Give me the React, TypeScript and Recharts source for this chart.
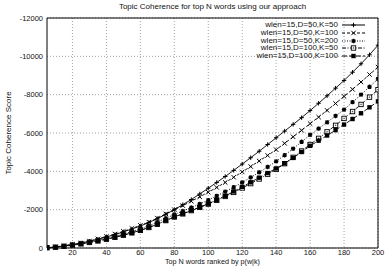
import { LineChart, Line, XAxis, YAxis, CartesianGrid, Legend, ReferenceArea, Label } from "recharts"

const FONT = "'Liberation Sans', Arial, sans-serif"

// top N words (x axis)
const topN = [
  5, 10, 15, 20, 25, 30, 35, 40, 45, 50, 55, 60, 65, 70, 75, 80, 85, 90, 95, 100,
  105, 110, 115, 120, 125, 130, 135, 140, 145, 150, 155, 160, 165, 170, 175, 180, 185, 190, 195, 200,
]

// coherence scores
const d50k50 = [
  -15, -55, -110, -180, -260, -355, -460, -575, -700, -840, -990, -1150, -1330, -1530, -1760, -2000, -2260, -2530, -2820, -3120,
  -3420, -3730, -4050, -4380, -4710, -5050, -5400, -5750, -6100, -6450, -6800, -7170, -7550, -7940, -8340, -8740, -9170, -9610, -10080, -10580,
]
const d50k100 = [
  -15, -55, -115, -190, -270, -365, -475, -600, -730, -870, -1020, -1180, -1350, -1560, -1780, -2000, -2210, -2440, -2670, -2910,
  -3160, -3420, -3690, -3970, -4250, -4540, -4830, -5130, -5460, -5800, -6140, -6490, -6830, -7180, -7540, -7910, -8280, -8660, -9050, -9440,
]
const d50k200 = [
  -12, -45, -95, -160, -230, -310, -400, -500, -610, -730, -860, -1000, -1160, -1350, -1550, -1750, -1930, -2110, -2300, -2500,
  -2720, -2940, -3170, -3420, -3680, -3950, -4230, -4520, -4840, -5180, -5540, -5900, -6230, -6560, -6890, -7220, -7610, -8000, -8410, -8820,
]
const d100k50 = [
  -12, -42, -88, -150, -215, -290, -370, -460, -560, -670, -790, -920, -1070, -1240, -1430, -1620, -1780, -1950, -2120, -2290,
  -2490, -2690, -2900, -3130, -3360, -3600, -3850, -4100, -4400, -4730, -5060, -5400, -5720, -6060, -6400, -6760, -7120, -7490, -7870, -8260,
]
const d100k100 = [
  -12, -42, -88, -150, -215, -290, -370, -460, -560, -670, -790, -920, -1070, -1240, -1430, -1620, -1790, -1960, -2130, -2310,
  -2510, -2720, -2950, -3190, -3430, -3670, -3910, -4150, -4420, -4700, -5010, -5330, -5600, -5870, -6150, -6440, -6730, -7030, -7340, -7650,
]

const xTicks = [20, 40, 60, 80, 100, 120, 140, 160, 180, 200]
const yTicks = [-12000, -10000, -8000, -6000, -4000, -2000, 0]

const SERIES = [
  { key: "s1", name: "wlen=15,D=50,K=50", values: d50k50, dash: undefined, marker: "plus" },
  { key: "s2", name: "wlen=15,D=50,K=100", values: d50k100, dash: "3 2", marker: "cross" },
  { key: "s3", name: "wlen=15,D=50,K=200", values: d50k200, dash: "1 1.5", marker: "star" },
  { key: "s4", name: "wlen=15,D=100,K=50", values: d100k50, dash: "4 1.5 1 1.5", marker: "box" },
  { key: "s5", name: "wlen=15,D=100,K=100", values: d100k100, dash: "5 2", marker: "fbox" },
]

const data = topN.map((n, i) => {
  const row: any = { n }
  SERIES.forEach((s) => (row[s.key] = s.values[i]))
  return row
})

function Marker({ kind, cx, cy }: { kind: string; cx: number; cy: number }) {
  const s = 2.2
  if (kind === "plus")
    return <path d={`M${cx - s},${cy}H${cx + s}M${cx},${cy - s}V${cy + s}`} stroke="#000" strokeWidth={1} />
  if (kind === "cross")
    return <path d={`M${cx - s},${cy - s}L${cx + s},${cy + s}M${cx - s},${cy + s}L${cx + s},${cy - s}`} stroke="#000" strokeWidth={1} />
  if (kind === "star")
    return (
      <path
        d={`M${cx - s},${cy}H${cx + s}M${cx},${cy - s}V${cy + s}M${cx - 1.7},${cy - 1.7}L${cx + 1.7},${cy + 1.7}M${cx - 1.7},${cy + 1.7}L${cx + 1.7},${cy - 1.7}`}
        stroke="#000"
        strokeWidth={1.2}
      />
    )
  if (kind === "box")
    return (
      <g>
        <rect x={cx - 2.2} y={cy - 2.2} width={4.4} height={4.4} fill="#fff" stroke="#000" strokeWidth={0.9} />
        <rect x={cx - 0.7} y={cy - 0.7} width={1.4} height={1.4} fill="#555" />
      </g>
    )
  return <rect x={cx - 2.2} y={cy - 2.2} width={4.4} height={4.4} fill="#000" />
}

const LegendBox = () => (
  <div style={{ fontFamily: FONT, fontSize: 8, color: "#111" }}>
    {SERIES.map((s) => (
      <div key={s.key} style={{ display: "flex", alignItems: "center", justifyContent: "flex-end", height: 7.8 }}>
        <span style={{ lineHeight: "7.8px", whiteSpace: "nowrap" }}>{s.name}</span>
        <svg width={25} height={8} style={{ marginLeft: 3, display: "block" }}>
          <line x1={1} x2={24} y1={4} y2={4} stroke="#000" strokeWidth={1} strokeDasharray={s.dash} />
          <Marker kind={s.marker} cx={12.5} cy={4} />
        </svg>
      </div>
    ))}
  </div>
)

const YTitle = ({ viewBox }: any) => {
  const cx = 11
  const cy = viewBox.y + viewBox.height / 2
  return (
    <text x={cx} y={cy} transform={`rotate(-90, ${cx}, ${cy})`} textAnchor="middle" fontSize={8} fontFamily={FONT} fill="#111">
      Topic Coherence Score
    </text>
  )
}

export default function App() {
  return (
    <div style={{ position: "absolute", left: 0, top: 0, width: 386, height: 268, background: "#fff", overflow: "hidden" }}>
      <div
        style={{
          position: "absolute",
          top: 2,
          left: 47,
          width: 331,
          textAlign: "center",
          fontFamily: FONT,
          fontSize: 8,
          color: "#111",
          lineHeight: "10px",
        }}
      >
        Topic Coherence for top N words using our approach
      </div>
      <LineChart width={386} height={268} data={data} margin={{ top: 18, right: 8, bottom: 0, left: 0 }}>
        <CartesianGrid stroke="#666" strokeWidth={0.6} strokeDasharray="1 2" horizontalValues={yTicks} verticalValues={xTicks} />
        <XAxis
          type="number"
          dataKey="n"
          domain={[5, 200]}
          ticks={xTicks}
          allowDataOverflow
          height={20}
          axisLine={false}
          tickLine={false}
          tickSize={0}
          tickMargin={2}
          tick={{ fontSize: 7.5, fontFamily: FONT, fill: "#111" }}
        >
          <Label value="Top N words ranked by p(w|k)" position="bottom" offset={-9} fontSize={7.2} fontFamily={FONT} fill="#111" />
        </XAxis>
        <YAxis
          type="number"
          domain={[-12000, 0]}
          reversed
          ticks={yTicks}
          width={47}
          axisLine={false}
          tickLine={false}
          tickSize={0}
          tickMargin={4}
          tick={{ fontSize: 7.5, fontFamily: FONT, fill: "#111" }}
        >
          <Label content={YTitle} />
        </YAxis>
        <ReferenceArea x1={5} x2={200} y1={-12000} y2={0} fill="none" stroke="#000" strokeWidth={1} ifOverflow="visible" />
        {SERIES.map((s) => (
          <Line
            key={s.key}
            dataKey={s.key}
            name={s.name}
            type="linear"
            stroke="#000"
            strokeWidth={0.9}
            strokeDasharray={s.dash}
            dot={(p: any) => <Marker key={`${s.key}-${p.index}`} kind={s.marker} cx={p.cx} cy={p.cy} />}
            activeDot={false}
            isAnimationActive={false}
          />
        ))}
        <Legend
          layout="vertical"
          align="center"
          verticalAlign="middle"
          content={LegendBox}
          wrapperStyle={{ top: 21, right: 20, left: "auto", width: "auto" }}
        />
      </LineChart>
    </div>
  )
}
